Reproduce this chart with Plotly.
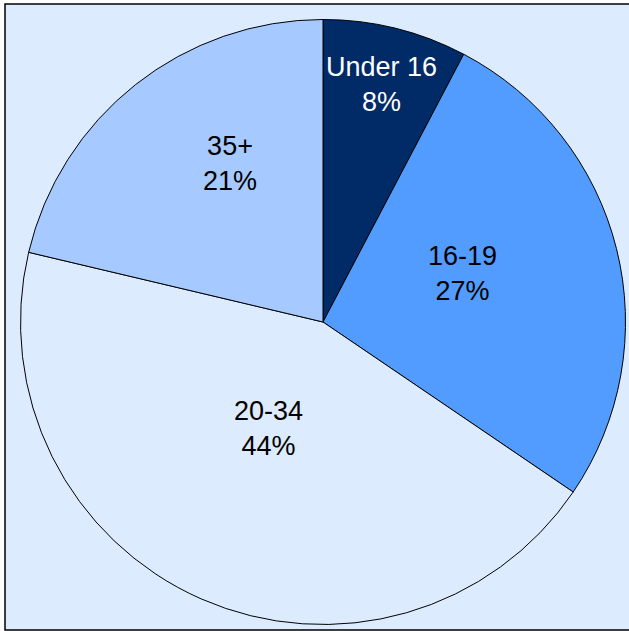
import plotly.graph_objects as go

categories = ["Under 16", "16-19", "20-34", "35+"]
values = [7.7, 26.8, 44.2, 21.3]
colors = ["#002B66", "#529CFF", "#DDEBFF", "#A6CAFF"]
text_colors = ["#FFFFFF", "#000000", "#000000", "#000000"]
# label centres (pixels from top-left), as placed in the reference
label_px = [(382, 85), (462, 273), (268, 428), (230, 163)]

W, H = 629, 631
cx, cy, r = 323, 322, 302.5

total = sum(values)
fig = go.Figure(go.Pie(
    labels=categories,
    values=values,
    sort=False,
    direction="clockwise",
    rotation=0,
    marker=dict(colors=colors, line=dict(color="#000000", width=1)),
    textinfo="none",
    hoverinfo="label+percent",
    showlegend=False,
    domain=dict(x=[(cx - r) / W, (cx + r) / W], y=[(H - cy - r) / H, (H - cy + r) / H]),
))

annotations = []
for cat, v, tc, (px, py) in zip(categories, values, text_colors, label_px):
    annotations.append(dict(
        x=px / W, y=1 - py / H, xref="paper", yref="paper",
        text=f"{cat}<br>{round(100 * v / total)}%",
        showarrow=False, xanchor="center", yanchor="middle",
        font=dict(family="Liberation Sans, Arial, sans-serif", size=27, color=tc),
    ))

fig.update_layout(
    width=W, height=H,
    margin=dict(l=0, r=0, t=0, b=0),
    paper_bgcolor="#FFFFFF",
    plot_bgcolor="#FFFFFF",
    annotations=annotations,
    shapes=[dict(type="rect", xref="paper", yref="paper",
                 x0=5 / W, x1=1.02, y0=1 - 630 / H, y1=1 - 4 / H,
                 fillcolor="#DDEBFF", line=dict(color="#000000", width=1.5), layer="below")],
)

fig.write_html("out.html", config={"displayModeBar": False},
               post_script="document.body.style.margin='0';document.body.style.overflow='hidden';")
